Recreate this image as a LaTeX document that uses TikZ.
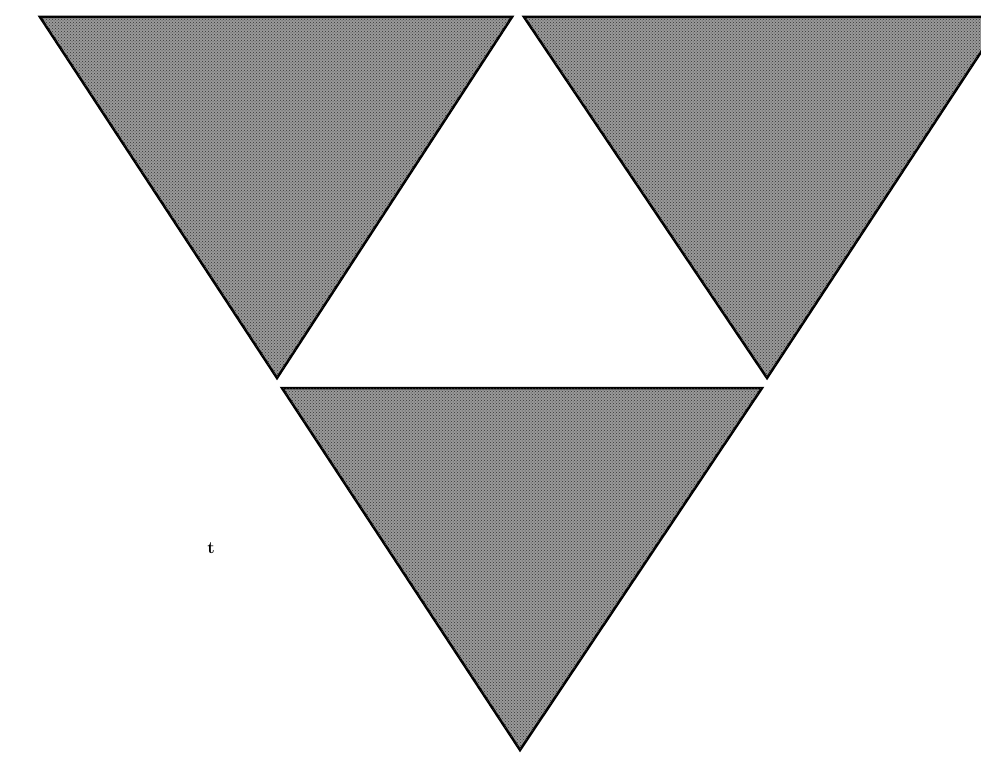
\documentclass[tikz,border=0pt]{standalone}
\usetikzlibrary{patterns}
\begin{document}
\begin{tikzpicture}[x=1pt,y=-1pt,
  tri/.style={fill=black!40,draw=black,line width=2.5pt,line join=miter,
    postaction={pattern=crosshatch dots,pattern color=black!80}}]
\useasboundingbox (0,0) rectangle (981,768);
\fill[white] (0,0) rectangle (981,768);
\clip (0,0) rectangle (981,768);
% top-left triangle
\coordinate (a1) at (40,17);
\coordinate (a2) at (512,17);
\coordinate (a3) at (277,378);
% top-right triangle
\coordinate (b1) at (524,17);
\coordinate (b2) at (1004,17);
\coordinate (b3) at (767,378);
% bottom triangle
\coordinate (c1) at (282,388);
\coordinate (c2) at (762,388);
\coordinate (c3) at (520,750);
\draw[tri] (a1) -- (a2) -- (a3) -- cycle;
\draw[tri] (b1) -- (b2) -- (b3) -- cycle;
\draw[tri] (c1) -- (c2) -- (c3) -- cycle;
\node[font=\fontsize{17}{17}\selectfont\bfseries] (t) at (211,548) {t};
\end{tikzpicture}
\end{document}
